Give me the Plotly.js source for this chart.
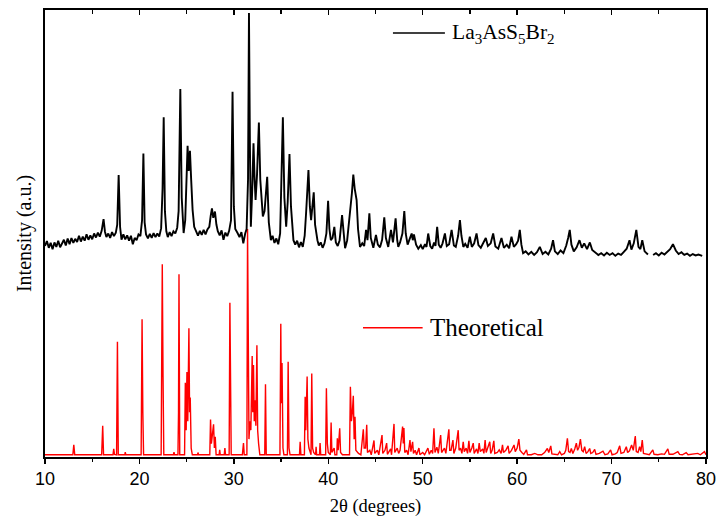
<!DOCTYPE html>
<html>
<head>
<meta charset="utf-8">
<script src="https://cdn.plot.ly/plotly-3.0.1.min.js"></script>
<style>html,body{margin:0;padding:0;background:#fff;}#chart{width:719px;height:525px;}</style>
</head>
<body>
<div id="chart"></div>
<script>
const expX = [10.0,10.2,10.4,10.6,10.8,11.0,11.2,11.4,11.6,11.8,12.0,12.2,12.4,12.6,12.8,13.0,13.2,13.4,13.6,13.8,14.0,14.2,14.4,14.6,14.8,15.0,15.2,15.4,15.6,15.8,16.0,16.2,16.35,16.5,16.7,16.9,17.1,17.3,17.5,17.65,17.8,17.95,18.1,18.3,18.5,18.7,18.9,19.1,19.3,19.5,19.7,19.9,20.1,20.28,20.42,20.55,20.7,20.9,21.1,21.3,21.5,21.7,21.9,22.1,22.3,22.45,22.57,22.7,22.85,23.0,23.2,23.4,23.6,23.8,24.0,24.15,24.33,24.48,24.68,24.85,25.0,25.1,25.22,25.35,25.48,25.63,25.8,26.0,26.2,26.4,26.6,26.8,27.0,27.2,27.4,27.55,27.68,27.82,28.0,28.15,28.3,28.5,28.7,28.9,29.1,29.3,29.5,29.7,29.86,30.0,30.15,30.39,30.6,30.8,31.0,31.2,31.35,31.5,31.6,31.7,31.8,31.95,32.08,32.2,32.3,32.45,32.65,32.8,32.95,33.07,33.25,33.53,33.7,33.92,34.1,34.3,34.5,34.7,34.9,35.05,35.19,35.35,35.54,35.7,35.89,36.05,36.31,36.5,36.7,36.9,37.1,37.3,37.5,37.65,37.9,38.05,38.18,38.46,38.6,38.85,39.0,39.2,39.4,39.6,39.8,39.98,40.12,40.27,40.45,40.64,40.8,41.0,41.2,41.46,41.6,41.78,42.0,42.3,42.5,42.65,42.8,43.0,43.15,43.36,43.6,43.8,44.0,44.15,44.35,44.5,44.77,45.05,45.25,45.48,45.7,45.93,46.1,46.35,46.64,46.85,47.13,47.3,47.41,47.6,47.85,48.05,48.2,48.4,48.6,48.83,48.95,49.07,49.3,49.53,49.8,50.0,50.24,50.4,50.58,50.8,51.0,51.2,51.35,51.53,51.7,51.9,52.1,52.35,52.55,52.8,53.06,53.3,53.5,53.75,53.94,54.1,54.3,54.5,54.75,54.99,55.2,55.45,55.7,55.9,56.15,56.4,56.68,56.9,57.2,57.46,57.7,58.0,58.34,58.6,58.9,59.15,59.4,59.65,59.9,60.1,60.28,60.45,60.63,60.9,61.2,61.5,61.8,62.1,62.4,62.7,63.0,63.3,63.6,63.8,64.0,64.3,64.6,64.9,65.2,65.4,65.57,65.75,66.0,66.3,66.6,66.85,67.1,67.4,67.7,67.95,68.3,68.6,68.9,69.2,69.5,69.8,70.1,70.4,70.7,71.0,71.3,71.6,71.9,72.1,72.35,72.62,72.85,73.05,73.25,73.5,73.85,74.0,74.4,74.7,75.0,75.3,75.6,75.9,76.2,76.5,76.8,77.1,77.4,77.7,78.0,78.3,78.6,78.9,79.2,79.6];
const expY = [47.2,48.3,46.8,47.9,46.5,48.0,47.0,48.4,46.9,47.8,48.6,47.3,48.9,47.6,49.0,47.9,48.8,48.1,49.5,48.2,49.3,48.4,49.8,48.6,49.6,48.7,50.0,49.1,50.2,49.3,50.6,53.2,50.4,49.2,50.0,49.0,50.3,49.4,50.2,52.0,63.1,51.5,48.6,49.8,48.7,49.6,48.4,49.5,47.6,49.0,48.5,49.8,49.4,53.0,67.9,52.5,49.8,48.9,49.9,49.0,50.1,49.2,50.0,49.3,51.2,60.0,76.0,55.0,50.5,49.2,50.3,49.4,50.5,50.0,51.3,55.0,82.3,58.0,50.1,53.0,65.0,69.6,64.0,68.5,62.0,55.3,51.5,50.4,49.5,50.6,49.7,50.8,49.8,50.9,51.5,54.0,55.6,53.5,54.9,52.0,50.5,49.6,50.7,48.6,50.2,49.4,50.6,53.0,81.7,56.0,51.0,50.1,49.2,50.3,47.8,50.0,51.0,62.0,99.3,70.0,51.5,60.0,70.2,62.0,57.5,63.0,74.8,62.0,56.0,53.8,55.0,62.7,52.5,48.5,49.5,47.9,48.9,47.6,50.0,62.0,76.0,58.0,51.5,57.0,67.8,56.0,48.5,47.5,48.4,46.9,48.1,47.0,49.5,54.6,64.2,56.0,53.0,59.2,52.0,48.5,47.3,48.0,46.8,47.8,50.0,57.3,51.0,48.5,49.0,51.5,48.0,47.2,48.5,54.1,50.0,46.7,48.5,54.5,59.0,63.2,60.0,57.5,51.0,47.0,47.8,47.2,50.8,48.5,54.5,49.0,46.8,49.7,47.5,46.9,48.6,53.6,49.0,47.0,50.8,48.0,53.4,48.5,47.0,48.0,50.0,55.0,50.0,47.5,48.5,50.0,48.5,49.8,47.5,46.6,47.4,46.5,47.6,47.0,50.0,47.2,46.6,48.0,47.2,51.5,47.5,46.8,47.8,50.0,47.2,47.6,50.8,47.3,47.0,49.5,53.0,49.5,47.0,47.7,46.8,49.3,47.0,47.8,50.0,47.4,46.8,47.9,49.0,47.2,47.8,50.0,47.1,46.6,49.0,46.8,47.5,46.7,49.3,47.0,47.6,48.4,50.8,47.5,45.6,46.0,45.3,45.9,45.2,45.8,47.0,45.4,45.9,45.3,46.6,48.5,46.0,45.4,46.2,45.6,47.3,49.0,50.8,47.5,46.0,46.9,48.5,46.8,47.8,46.5,48.0,46.3,45.8,45.2,45.6,45.1,45.7,45.2,45.6,45.0,45.5,45.2,45.9,46.6,48.5,46.4,47.8,50.8,47.0,46.5,48.5,46.0,45.3,null,45.2,45.6,45.1,45.7,45.3,46.0,46.5,47.6,46.2,45.4,45.8,45.2,45.5,45.0,45.4,45.1,45.3,45.0];

// Theoretical pattern
const theoX = [10.0,12.95,13.05,13.15,16.0,16.11,16.2,17.2,17.28,17.36,17.58,17.67,17.76,18.45,18.5,18.56,20.18,20.28,20.36,20.44,22.3,22.37,22.42,22.5,22.58,23.6,23.66,23.72,24.08,24.14,24.19,24.27,24.78,24.86,24.95,25.03,25.12,25.24,25.31,25.38,25.48,25.6,26.15,26.2,26.26,27.45,27.53,27.62,27.7,27.85,27.94,28.03,28.12,28.44,28.5,28.56,28.98,29.05,29.12,29.5,29.58,29.66,29.72,30.9,31.02,31.1,31.38,31.45,31.52,31.6,31.7,31.8,31.94,32.0,32.08,32.16,32.25,32.33,32.44,32.52,32.62,32.75,33.27,33.35,33.43,34.88,34.97,35.03,35.1,35.2,35.3,35.67,35.75,35.84,35.95,36.95,37.02,37.1,37.47,37.55,37.62,37.76,37.84,37.95,38.17,38.25,38.34,38.45,38.65,38.71,38.77,39.07,39.13,39.2,39.72,39.8,39.9,40.0,40.22,40.3,40.38,40.62,40.7,40.9,40.96,41.05,41.21,41.3,41.5,42.25,42.34,42.45,42.55,42.65,42.74,42.83,42.92,43.2,43.45,43.71,43.8,43.95,44.07,44.15,44.4,44.55,44.84,44.92,45.2,45.35,45.69,45.77,46.0,46.18,46.26,46.6,46.7,46.96,47.04,47.3,47.45,47.6,47.87,47.94,48.01,48.1,48.3,48.45,48.65,48.75,48.93,49.02,49.2,49.35,49.6,49.7,50.0,50.2,50.55,50.7,50.9,51.05,51.19,51.3,51.5,51.65,51.9,52.0,52.3,52.45,52.77,52.86,53.0,53.2,53.3,53.5,53.76,53.85,54.0,54.15,54.29,54.4,54.6,54.75,54.89,55.0,55.2,55.35,55.45,55.7,55.85,55.98,56.1,56.35,56.48,56.61,56.72,56.9,57.1,57.2,57.35,57.53,57.63,57.9,58.1,58.3,58.45,58.55,58.8,59.04,59.15,59.4,59.67,59.8,60.0,60.18,60.3,60.5,60.7,60.99,61.1,61.5,61.87,62.2,62.6,62.9,63.2,63.35,63.56,63.68,64.0,64.3,64.51,64.7,65.0,65.15,65.32,65.45,65.6,65.74,65.9,66.1,66.27,66.4,66.55,66.7,66.85,67.0,67.15,67.3,67.5,67.68,67.8,68.0,68.21,68.35,68.7,69.09,69.3,69.6,69.9,70.05,70.4,70.6,70.86,71.0,71.3,71.56,71.7,71.9,72.12,72.3,72.51,72.62,72.8,72.97,73.1,73.25,73.38,73.7,74.0,74.37,74.5,74.9,75.3,75.6,75.96,76.1,76.5,77.02,77.2,77.5,77.9,78.1,78.6,79.13,79.4,79.84,80.0];
const theoY = [0.5,0.5,2.7,0.5,0.5,7.0,0.5,0.5,1.8,0.6,0.5,25.8,0.5,0.5,1.1,0.5,0.5,30.8,10.0,0.5,0.5,35.6,43.1,18.0,0.5,0.5,1.1,0.5,0.5,10.0,40.9,0.5,0.5,16.6,6.0,19.0,8.0,28.8,10.0,13.3,2.0,0.5,0.5,1.0,0.5,0.5,8.4,3.0,5.0,7.3,2.0,4.5,0.5,0.5,1.6,0.5,0.5,2.0,0.5,0.5,34.5,5.0,0.5,0.5,3.1,0.5,0.5,51.0,12.0,4.0,8.0,6.0,22.6,10.0,20.6,8.0,12.7,7.0,25.0,6.0,3.0,0.5,0.5,16.3,0.5,0.5,29.8,12.0,21.0,2.0,0.5,0.5,21.3,2.0,0.5,0.5,3.4,0.5,0.5,13.5,6.0,18.0,4.0,2.0,0.5,18.7,2.0,1.0,0.5,2.3,0.5,0.5,3.1,0.5,0.5,15.4,3.0,1.0,0.5,7.7,1.0,2.0,0.5,0.5,4.2,1.5,6.4,1.0,0.5,0.5,15.7,8.0,10.0,13.7,4.0,9.0,1.5,0.8,0.5,6.2,2.0,2.0,7.2,1.0,1.5,0.5,3.7,0.8,1.5,0.5,4.9,0.8,1.5,3.1,0.6,1.8,0.5,7.4,1.0,2.0,0.8,1.5,6.8,3.0,6.5,1.0,1.5,0.5,3.8,1.2,3.4,0.8,1.5,0.5,2.0,0.5,1.0,0.5,2.0,0.6,1.5,0.8,6.4,1.0,2.2,0.8,4.9,1.0,2.0,0.8,6.2,1.5,1.5,3.8,0.8,2.0,6.0,1.5,2.0,0.8,3.4,1.2,2.0,0.8,3.6,1.0,2.0,3.1,0.8,1.8,0.8,3.1,1.2,1.8,0.8,3.8,1.0,2.2,3.4,0.8,1.5,3.6,0.8,1.0,1.6,0.8,2.7,1.0,1.5,2.5,0.8,1.5,2.7,1.2,2.0,4.0,1.5,1.0,0.6,1.6,0.5,0.5,0.8,0.5,0.5,1.0,1.9,1.0,2.5,0.7,0.6,0.5,1.2,0.5,0.8,1.5,4.2,1.2,1.0,1.9,0.8,1.8,3.1,1.5,2.2,4.0,1.5,1.2,2.3,0.8,1.2,1.9,0.8,1.0,1.7,0.6,0.8,1.3,0.5,0.7,1.6,0.5,0.7,1.0,2.5,0.8,1.0,2.3,1.0,1.4,2.7,1.5,4.7,1.2,1.0,2.3,1.2,3.8,0.8,0.6,0.5,1.6,0.6,0.5,0.7,0.6,1.8,0.6,0.6,1.2,0.6,0.5,1.0,0.5,0.6,0.8,0.5,1.2,0.5];

const seriesNames = ["La<sub>3</sub>AsS<sub>5</sub>Br<sub>2</sub>", "Theoretical"];
const xTitle = "2θ (degrees)";
const yTitle = "Intensity (a.u.)";

const serif = "Liberation Serif, Times New Roman, serif";
const sans = "Liberation Sans, Arial, sans-serif";

const traces = [
  {x: theoX, y: theoY, type: "scatter", mode: "lines", name: seriesNames[1],
   line: {color: "#ff0000", width: 1.4}, showlegend: false, hoverinfo: "skip"},
  {x: expX, y: expY, type: "scatter", mode: "lines", name: seriesNames[0],
   line: {color: "#000000", width: 1.9}, connectgaps: false, showlegend: false, hoverinfo: "skip"},
  {x: [], y: [], xaxis: "x2", type: "scatter", mode: "lines", showlegend: false, hoverinfo: "skip"}
];

const layout = {
  width: 719, height: 525,
  margin: {l: 44.5, r: 12.5, t: 10, b: 68},
  paper_bgcolor: "#ffffff", plot_bgcolor: "#ffffff",
  showlegend: false,
  xaxis: {
    range: [10, 80], dtick: 10, tick0: 10,
    showgrid: false, zeroline: false,
    showline: true, linecolor: "#000", linewidth: 1.6, mirror: true,
    ticks: "outside", ticklen: 5, tickwidth: 1.3, tickcolor: "#000",
    minor: {dtick: 5, tick0: 10, ticks: "outside", ticklen: 3, tickwidth: 1.2, tickcolor: "#000", showgrid: false},
    tickfont: {family: sans, size: 18, color: "#000"},
    title: {text: xTitle, font: {family: serif, size: 18.5, color: "#000"}, standoff: 11}
  },
  xaxis2: {
    overlaying: "x", side: "top", anchor: "y", range: [10, 80], dtick: 10, tick0: 10,
    showgrid: false, zeroline: false, showline: false, showticklabels: false,
    ticks: "inside", ticklen: 5, tickwidth: 1.3, tickcolor: "#000",
    minor: {dtick: 5, tick0: 10, ticks: "inside", ticklen: 4, tickwidth: 1.2, tickcolor: "#000", showgrid: false}
  },
  yaxis: {
    range: [0, 100], showgrid: false, zeroline: false,
    showline: true, linecolor: "#000", linewidth: 1.6, mirror: true,
    ticks: "", showticklabels: false,
    title: {text: yTitle, font: {family: serif, size: 20, color: "#000"}, standoff: 6}
  },
  shapes: [
    {type: "line", xref: "paper", yref: "paper", x0: 0.5264, x1: 0.605, y0: 0.9485, y1: 0.9485,
     line: {color: "#000", width: 1.6}},
    {type: "line", xref: "paper", yref: "paper", x0: 0.4811, x1: 0.5713, y0: 0.2893, y1: 0.2893,
     line: {color: "#ff0000", width: 1.6}}
  ],
  annotations: [
    {xref: "paper", yref: "paper", x: 0.6125, y: 0.9485, xanchor: "left", yanchor: "middle",
     text: seriesNames[0], showarrow: false, font: {family: serif, size: 21.5, color: "#000"}},
    {xref: "paper", yref: "paper", x: 0.5793, y: 0.2893, xanchor: "left", yanchor: "middle",
     text: seriesNames[1], showarrow: false, font: {family: serif, size: 25, color: "#000"}}
  ]
};

Plotly.newPlot("chart", traces, layout, {displayModeBar: false, staticPlot: true});
</script>
</body>
</html>
